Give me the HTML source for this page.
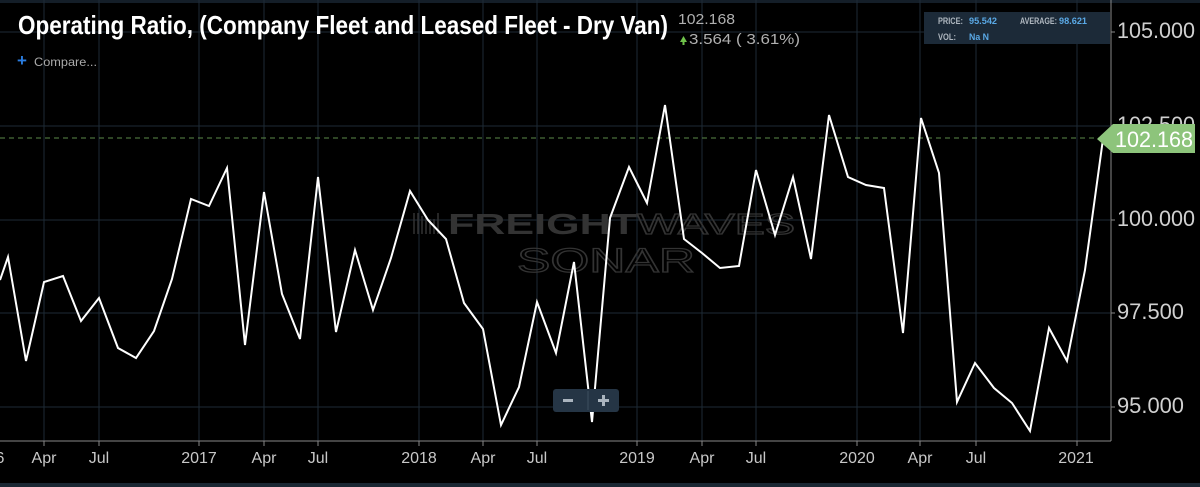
<!DOCTYPE html>
<html><head><meta charset="utf-8"><style>
html,body{margin:0;padding:0;background:#000;}
svg{display:block;}
</style></head><body>
<svg width="1200" height="487" viewBox="0 0 1200 487" xmlns="http://www.w3.org/2000/svg" font-family="Liberation Sans, sans-serif">
<rect width="1200" height="487" fill="#000"/>
<rect x="0" y="0" width="1200" height="3" fill="#141e28"/>
<rect x="0" y="483" width="1200" height="4" fill="#1a2733"/>
<!-- grid -->
<g stroke="#1e2a36" stroke-width="1">
<line x1="0" y1="32" x2="1110" y2="32"/>
<line x1="0" y1="126" x2="1110" y2="126"/>
<line x1="0" y1="220" x2="1110" y2="220"/>
<line x1="0" y1="313" x2="1110" y2="313"/>
<line x1="0" y1="407" x2="1110" y2="407"/>
<line x1="44" y1="0" x2="44" y2="441"/>
<line x1="99" y1="0" x2="99" y2="441"/>
<line x1="199" y1="0" x2="199" y2="441"/>
<line x1="264" y1="0" x2="264" y2="441"/>
<line x1="318" y1="0" x2="318" y2="441"/>
<line x1="419" y1="0" x2="419" y2="441"/>
<line x1="483" y1="0" x2="483" y2="441"/>
<line x1="537" y1="0" x2="537" y2="441"/>
<line x1="637" y1="0" x2="637" y2="441"/>
<line x1="702" y1="0" x2="702" y2="441"/>
<line x1="756" y1="0" x2="756" y2="441"/>
<line x1="857" y1="0" x2="857" y2="441"/>
<line x1="920" y1="0" x2="920" y2="441"/>
<line x1="976" y1="0" x2="976" y2="441"/>
<line x1="1077" y1="0" x2="1077" y2="441"/>
</g>
<!-- watermark -->
<g fill="#333">
<g stroke="#333" stroke-width="1.5"><line x1="414" y1="213" x2="414" y2="234"/><line x1="418" y1="213" x2="418" y2="234"/><line x1="422" y1="216" x2="422" y2="234"/><line x1="426" y1="216" x2="426" y2="234"/><line x1="430" y1="219" x2="430" y2="234"/><line x1="434" y1="219" x2="434" y2="234"/><line x1="438" y1="213" x2="438" y2="234"/></g>
<text x="448" y="234" font-size="29" font-weight="bold" textLength="189" lengthAdjust="spacingAndGlyphs">FREIGHT</text>
<text x="637" y="234" font-size="29" fill="none" stroke="#333" stroke-width="1.2" textLength="158" lengthAdjust="spacingAndGlyphs">WAVES</text>
<text x="517" y="272" font-size="34" fill="none" stroke="#333" stroke-width="1.2" textLength="178" lengthAdjust="spacingAndGlyphs">SONAR</text>
</g>
<!-- dashed last value -->
<line x1="0" y1="138" x2="1100" y2="138" stroke="#5d8a4a" stroke-width="1" stroke-dasharray="5,4"/>
<!-- axes -->
<line x1="1111" y1="0" x2="1111" y2="441" stroke="#888" stroke-width="1"/>
<line x1="0" y1="441" x2="1111" y2="441" stroke="#888" stroke-width="1"/>
<!-- series -->
<polyline fill="none" stroke="#fff" stroke-width="2" stroke-linejoin="miter" points="0,280 8,257 26,361 44,282 63,276 81,321 99,298 118,348 136,358 154,331 172,279 191,199 209,206 227,168 245,345 264,192 282,294 300,339 318,177 336,332 355,250 373,310 391,258 410,191 428,220 446,239 464,303 483,329 501,425 519,387 537,302 556,353 574,262 592,422 610,218 629,167 647,203 665,105 684,239 702,253 720,268 739,266 756,170 775,235 793,177 811,259 829,115 848,177 866,185 884,188 903,333 921,118 939,173 957,402 975,363 994,388 1012,403 1030,431 1049,328 1067,361 1085,270 1103,139"/>
<!-- y labels -->
<g fill="#d0d0d0" font-size="22">
<text x="1117" y="38" textLength="78" lengthAdjust="spacingAndGlyphs">105.000</text>
<text x="1117" y="132" textLength="78" lengthAdjust="spacingAndGlyphs">102.500</text>
<text x="1117" y="226" textLength="78" lengthAdjust="spacingAndGlyphs">100.000</text>
<text x="1117" y="319" textLength="67" lengthAdjust="spacingAndGlyphs">97.500</text>
<text x="1117" y="413" textLength="67" lengthAdjust="spacingAndGlyphs">95.000</text>
</g>
<g stroke="#888"><line x1="1111" y1="32" x2="1115" y2="32"/><line x1="1111" y1="220" x2="1115" y2="220"/><line x1="1111" y1="313" x2="1115" y2="313"/><line x1="1111" y1="407" x2="1115" y2="407"/></g>
<!-- tag -->
<path d="M1097,139 L1113,124 L1195,124 L1195,153 L1113,153 Z" fill="#8dc47b"/>
<text x="1115" y="147" font-size="22" fill="#fff" textLength="78" lengthAdjust="spacingAndGlyphs">102.168</text>
<!-- x labels -->
<g fill="#c8c8c8" font-size="16" text-anchor="middle">
<text x="0" y="463">6</text>
<text x="44" y="463">Apr</text><text x="99" y="463">Jul</text><text x="199" y="463">2017</text>
<text x="264" y="463">Apr</text><text x="318" y="463">Jul</text><text x="419" y="463">2018</text>
<text x="483" y="463">Apr</text><text x="537" y="463">Jul</text><text x="637" y="463">2019</text>
<text x="702" y="463">Apr</text><text x="756" y="463">Jul</text><text x="857" y="463">2020</text>
<text x="920" y="463">Apr</text><text x="976" y="463">Jul</text><text x="1076" y="463">2021</text>
</g>
<g stroke="#888"><line x1="44" y1="441" x2="44" y2="446"/><line x1="99" y1="441" x2="99" y2="446"/><line x1="199" y1="441" x2="199" y2="446"/><line x1="264" y1="441" x2="264" y2="446"/><line x1="318" y1="441" x2="318" y2="446"/><line x1="419" y1="441" x2="419" y2="446"/><line x1="483" y1="441" x2="483" y2="446"/><line x1="537" y1="441" x2="537" y2="446"/><line x1="637" y1="441" x2="637" y2="446"/><line x1="702" y1="441" x2="702" y2="446"/><line x1="756" y1="441" x2="756" y2="446"/><line x1="857" y1="441" x2="857" y2="446"/><line x1="920" y1="441" x2="920" y2="446"/><line x1="976" y1="441" x2="976" y2="446"/><line x1="1077" y1="441" x2="1077" y2="446"/></g>
<!-- title -->
<text x="18" y="34" font-size="26" font-weight="bold" fill="#fff" textLength="650" lengthAdjust="spacingAndGlyphs">Operating Ratio, (Company Fleet and Leased Fleet - Dry Van)</text>
<text x="678" y="24" font-size="15" fill="#b0b0b0" textLength="57" lengthAdjust="spacingAndGlyphs">102.168</text>
<path d="M680,42 L683.5,36 L687,42 Z M682.5,42 h2 v3 h-2 Z" fill="#6fc24a"/>
<text x="689" y="44" font-size="15" fill="#b0b0b0" textLength="111" lengthAdjust="spacingAndGlyphs">3.564 ( 3.61%)</text>
<text x="17" y="66" font-size="17" font-weight="bold" fill="#2a7de1">+</text>
<text x="34" y="66" font-size="12" fill="#aaa" textLength="63" lengthAdjust="spacingAndGlyphs">Compare...</text>
<!-- info box -->
<rect x="924" y="12" width="186" height="32" fill="#1c2a38"/>
<g font-size="9" font-weight="bold">
<text x="938" y="24" fill="#b0b8c0" textLength="25" lengthAdjust="spacingAndGlyphs">PRICE:</text>
<text x="969" y="24" fill="#5aa9e6" textLength="28" lengthAdjust="spacingAndGlyphs">95.542</text>
<text x="1020" y="24" fill="#b0b8c0" textLength="37" lengthAdjust="spacingAndGlyphs">AVERAGE:</text>
<text x="1059" y="24" fill="#5aa9e6" textLength="28" lengthAdjust="spacingAndGlyphs">98.621</text>
<text x="938" y="40" fill="#b0b8c0" textLength="18" lengthAdjust="spacingAndGlyphs">VOL:</text>
<text x="969" y="40" fill="#5aa9e6" textLength="20" lengthAdjust="spacingAndGlyphs">Na N</text>
</g>
<!-- zoom buttons -->
<rect x="553" y="389" width="66" height="23" rx="3" fill="#253545"/>
<line x1="588" y1="391" x2="588" y2="410" stroke="#3d4f60"/>
<rect x="563" y="399" width="10" height="3" fill="#aab4be"/>
<rect x="598" y="399" width="11" height="3" fill="#aab4be"/>
<rect x="602" y="395" width="3" height="11" fill="#aab4be"/>
</svg>
</body></html>
